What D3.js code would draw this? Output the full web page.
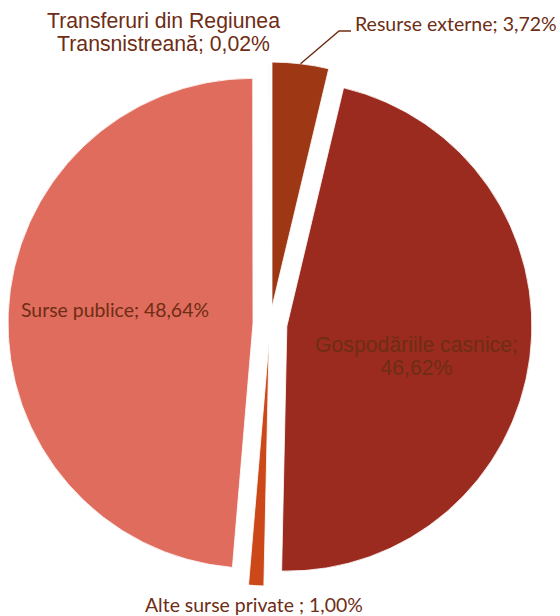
<!DOCTYPE html>
<html>
<head>
<meta charset="utf-8">
<script src="https://cdn.jsdelivr.net/npm/d3@7"></script>
<style>
  html, body { margin: 0; padding: 0; background: #fff; }
  svg { display: block; }
</style>
</head>
<body>
<svg id="chart" width="560" height="616"></svg>
<script>
// Structura surselor de finanțare (%)
const categories = [
  "Resurse externe",
  "Gospodăriile casnice",
  "Alte surse private ",
  "Surse publice",
  "Transferuri din Regiunea Transnistreană"
];
const values = [3.72, 46.62, 1.00, 48.64, 0.02];
const valueLabels = ["3,72%", "46,62%", "1,00%", "48,64%", "0,02%"];
const colors = ["#9E3814", "#9B2B1F", "#CD4819", "#E06C5D", "#E9A08A"];

// Layout
const W = 560, H = 616;
const cx = 270, cy = 324, radius = 245, explode = 17;
const textColor = "#6E2D14";
const arialStack = "'Liberation Sans', Arial, sans-serif";
const humanistStack = "Lato, 'Open Sans', sans-serif";

const svg = d3.select("#chart");

const pie = d3.pie().sort(null).value(d => d.value).startAngle(0).endAngle(2 * Math.PI);
const arc = d3.arc().innerRadius(0).outerRadius(radius);

const data = categories.map((c, i) => ({ name: c, value: values[i], label: valueLabels[i], color: colors[i] }));
const arcs = pie(data);

function offset(d) {
  const mid = (d.startAngle + d.endAngle) / 2;
  return [explode * Math.sin(mid), -explode * Math.cos(mid)];
}

const g = svg.append("g").attr("transform", `translate(${cx},${cy})`);

g.selectAll("path.slice")
  .data(arcs)
  .join("path")
  .attr("class", "slice")
  .attr("transform", d => { const [dx, dy] = offset(d); return `translate(${dx},${dy})`; })
  .attr("d", arc)
  .attr("fill", d => d.data.color)
  .attr("stroke", "#fff")
  .attr("stroke-width", 0.8)
  .attr("stroke-linejoin", "round");

// Leader line for the small "Resurse externe" slice
const ext = arcs[0];
{
  const [dx, dy] = offset(ext);
  const a = ext.startAngle + (ext.endAngle - ext.startAngle) * 0.5;
  const x0 = cx + dx + radius * Math.sin(a);
  const y0 = cy + dy - radius * Math.cos(a);
  svg.append("polyline")
    .attr("points", `${x0},${y0} 339,31 351,31`)
    .attr("fill", "none")
    .attr("stroke", textColor)
    .attr("stroke-width", 1.4);
}

// Label helper: font size is fitted so the widest line spans `width` px
function label(lines, x, y, width, family, anchor, lineGap) {
  const t = svg.append("text")
    .attr("x", x).attr("y", y)
    .attr("fill", textColor)
    .attr("font-family", family)
    .attr("font-size", 20)
    .attr("text-anchor", anchor);
  const spans = lines.map((s, i) =>
    t.append("tspan").attr("x", x).attr("y", y + i * lineGap).text(s));
  const widest = d3.max(spans, s => s.node().getComputedTextLength());
  t.attr("font-size", (20 * width / widest).toFixed(2));
}

const d0 = data[0], d1 = data[1], d2 = data[2], d3v = data[3], d4 = data[4];
label(["Transferuri din Regiunea", "Transnistreană; " + d4.label], 163.5, 27.5, 233, arialStack, "middle", 23.2);
label([d0.name + "; " + d0.label], 355, 30.7, 202, humanistStack, "start", 0);
label([d1.name + ";", d1.label], 416.5, 352, 203, arialStack, "middle", 23.2);
label([d3v.name + "; " + d3v.label], 21, 317, 188, humanistStack, "start", 0);
label([d2.name + "; " + d2.label], 145, 612, 218, humanistStack, "start", 0);
</script>
</body>
</html>
